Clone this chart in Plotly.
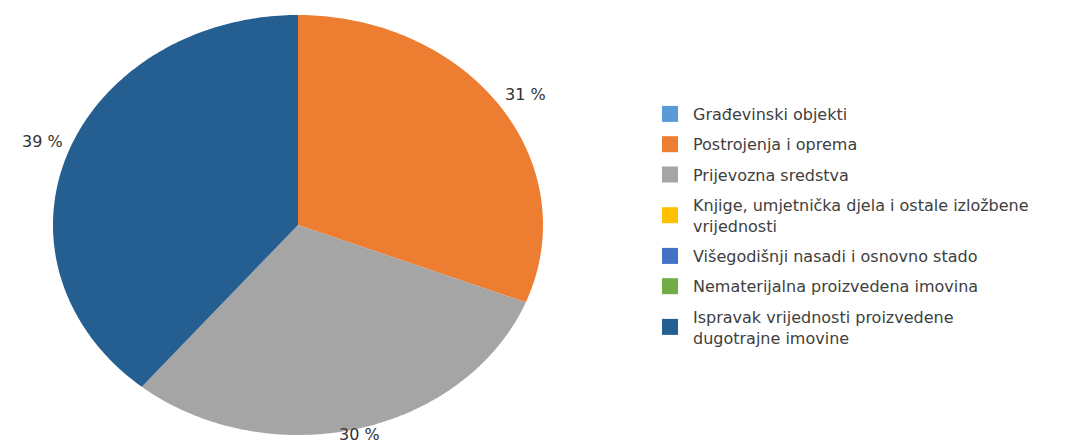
import numpy as np
import plotly.graph_objects as go

categories = [
    "Građevinski objekti",
    "Postrojenja i oprema",
    "Prijevozna sredstva",
    "Knjige, umjetnička djela i ostale izložbene<br>vrijednosti",
    "Višegodišnji nasadi i osnovno stado",
    "Nematerijalna proizvedena imovina",
    "Ispravak vrijednosti proizvedene<br>dugotrajne imovine",
]
values = [0, 31, 30, 0, 0, 0, 39]
colors = ["#5B9BD5", "#ED7D31", "#A5A5A5", "#FFC000", "#4472C4", "#70AD47", "#255E91"]

W, H = 1089, 446
OFF = 8  # default page body margin

total = float(sum(values))
fig = go.Figure()
start = 0.0
annotations = []
for name, v, c in zip(categories, values, colors):
    frac = v / total
    end = start + frac * 2 * np.pi
    n = max(2, int(frac * 400))
    th = np.linspace(start, end, n)
    xs = np.concatenate([[0], np.sin(th), [0]])
    ys = np.concatenate([[0], np.cos(th), [0]])
    fig.add_trace(go.Scatter(
        x=xs, y=ys, mode="none", fill="toself", fillcolor=c,
        name=name, legendgroup=name, showlegend=False, hoverinfo="name",
    ))
    # legend entry
    fig.add_trace(go.Scatter(
        x=[None], y=[None], mode="markers", name=name, legendgroup=name,
        marker=dict(symbol="square", size=16, color=c),
    ))
    if v > 0:
        mid = (start + end) / 2
        sx, cy = np.sin(mid), np.cos(mid)
        xanchor = "left" if sx > 0.3 else ("right" if sx < -0.3 else "center")
        yanchor = "bottom" if cy > 0.2 else ("top" if cy < -0.2 else "middle")
        annotations.append(dict(
            x=1.01 * sx, y=(1.01 if cy > 0 else 0.975) * cy, xref="x", yref="y",
            text=f"{v:.0f} %",
            showarrow=False, xanchor=xanchor, yanchor=yanchor,
            font=dict(family="DejaVu Sans", size=16, color="#333333"),
        ))
    start = end

fig.update_layout(
    width=W, height=H,
    margin=dict(l=0, r=0, t=0, b=0),
    paper_bgcolor="white", plot_bgcolor="white",
    xaxis=dict(domain=[(53 - OFF) / W, (543 - OFF) / W], range=[-1, 1], visible=False, fixedrange=True),
    yaxis=dict(domain=[1 - (435 - OFF) / H, 1 - (15 - OFF) / H], range=[-1, 1], visible=False, fixedrange=True),
    annotations=annotations,
    showlegend=True,
    legend=dict(
        x=639 / W, y=1 - 89 / H, xanchor="left", yanchor="top",
        font=dict(family="DejaVu Sans", size=16, color="#404040"),
        tracegroupgap=6.5, itemwidth=36, bgcolor="rgba(0,0,0,0)",
    ),
    font=dict(family="DejaVu Sans"),
)

fig.write_html("out.html")
